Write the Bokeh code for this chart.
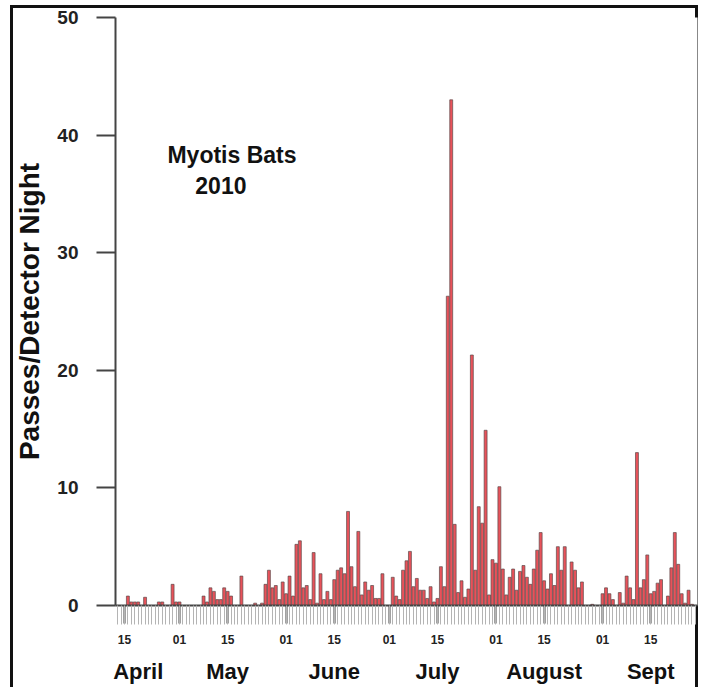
import pandas as pd
from bokeh.plotting import figure
from bokeh.models import Range1d, FixedTicker, LinearAxis, Label
from bokeh.embed import file_html
from bokeh.resources import INLINE

# ---- data -------------------------------------------------------------
season_start = "2010-04-01"          # day 0 of the x axis
first_day = "2010-04-15"
last_day = "2010-09-27"

# passes per detector night, one value per night from Apr 15 to Sep 27
passes = [
    # Apr 15 - Apr 30
    0, 0.8, 0.3, 0.3, 0.3, 0, 0.7, 0, 0, 0, 0.3, 0.3, 0, 0, 1.8, 0.3,
    # May 1 - May 31
    0.3, 0, 0, 0, 0, 0, 0, 0.8, 0.3, 1.5, 1.2, 0.5, 0.5, 1.5, 1.2, 0.8,
    0, 0, 2.5, 0, 0, 0, 0.2, 0, 0.2, 1.8, 3.0, 1.5, 1.7, 0.5, 2.0,
    # Jun 1 - Jun 30
    1.0, 2.5, 0.8, 5.2, 5.5, 1.5, 1.7, 0.5, 4.5, 0.2, 2.7, 0.5, 1.2, 0.5, 2.2,
    3.0, 3.2, 2.7, 8.0, 3.3, 1.6, 6.3, 0.9, 2.0, 1.3, 1.7, 0.6, 0.6, 2.7, 0,
    # Jul 1 - Jul 31
    0, 2.4, 0.8, 0.5, 3.0, 3.8, 4.6, 1.6, 2.3, 1.3, 1.3, 0.6, 1.6, 0.3, 0.6,
    3.3, 1.6, 26.3, 43.0, 6.9, 1.1, 2.1, 0.7, 1.4, 21.3, 3.0, 8.4, 7.0, 14.9, 0.9, 3.9,
    # Aug 1 - Aug 31
    3.6, 10.1, 3.1, 0.9, 2.4, 3.1, 1.3, 2.9, 3.4, 2.4, 1.8, 3.1, 4.7, 6.2, 2.1,
    1.4, 2.7, 1.7, 5.0, 3.0, 5.0, 0, 3.7, 3.0, 1.5, 2.0, 0, 0, 0.1, 0, 0,
    # Sep 1 - Sep 27
    1.0, 1.5, 1.0, 0.5, 0, 1.1, 0.2, 2.5, 1.5, 0.5, 13.0, 1.5, 2.2, 4.3, 1.0,
    1.2, 1.9, 2.2, 0, 0.8, 3.2, 6.2, 3.5, 1.0, 0.2, 1.3, 0.1,
]

y_ticks = [0, 10, 20, 30, 40, 50]
month_names = ["April", "May", "June", "July", "August", "Sept"]
month_label_dates = ["2010-04-19", "2010-05-15", "2010-06-15",
                     "2010-07-15", "2010-08-15", "2010-09-15"]
axis_dates = pd.date_range("2010-04-13", "2010-09-28")

# ---- derived positions (days since season_start) -----------------------
t0 = pd.Timestamp(season_start)
nights = pd.date_range(first_day, last_day)
assert len(nights) == len(passes)
x = [(d - t0).days for d in nights]

all_days = [(d - t0).days for d in axis_dates]
major = [(d - t0).days for d in axis_dates if d.day in (1, 15)]
major_labels = {(d - t0).days: d.strftime("%d") for d in axis_dates if d.day in (1, 15)}
month_pos = [(pd.Timestamp(m) - t0).days for m in month_label_dates]

FONT = "Liberation Sans"

p = figure(width=688, height=682, output_backend="svg", toolbar_location=None,
           x_range=Range1d(11.4, 180.6), y_range=Range1d(0, 50),
           min_border_left=105, min_border_top=12, min_border_right=1,
           min_border_bottom=82)
p.outline_line_color = None
p.border_fill_color = None
p.background_fill_color = "white"
p.grid.visible = False
p.styles = {"margin-left": "10px", "margin-top": "5px",
            "box-shadow": "inset 3px 0 0 0 #111, inset 0 3px 0 0 #111, inset -3px 0 0 0 #111"}

p.vbar(x=x, top=passes, width=0.85, bottom=0,
       fill_color="#e8525a", line_color="#5c4a4a", line_width=0.7)

# y axis
ya = p.yaxis[0]
ya.ticker = FixedTicker(ticks=y_ticks)
ya.axis_label = "Passes/Detector Night"
ya.axis_label_text_font = FONT
ya.axis_label_text_font_style = "bold"
ya.axis_label_text_font_size = "28px"
ya.axis_label_text_color = "#111"
ya.axis_label_standoff = 9
ya.major_label_text_font = FONT
ya.major_label_text_font_style = "bold"
ya.major_label_text_font_size = "19px"
ya.major_label_text_color = "#222"
ya.major_label_standoff = 18
ya.major_tick_out = 19
ya.major_tick_in = 0
ya.minor_tick_line_color = None
ya.axis_line_width = 2
ya.axis_line_color = "#444"
ya.major_tick_line_width = 2
ya.major_tick_line_color = "#444"

# day axis
xa = p.xaxis[0]
xa.ticker = FixedTicker(ticks=major, minor_ticks=all_days)
xa.major_label_overrides = major_labels
xa.major_label_text_font = FONT
xa.major_label_text_font_style = "bold"
xa.major_label_text_font_size = "12px"
xa.major_label_text_color = "#222"
xa.major_label_standoff = 10
xa.major_tick_out = 18
xa.major_tick_in = 0
xa.major_tick_line_width = 2
xa.major_tick_line_color = "#444"
xa.minor_tick_out = 19
xa.minor_tick_in = 0
xa.minor_tick_line_color = "#b4b4b4"
xa.axis_line_width = 2
xa.axis_line_color = "#444"

# month axis
ma = LinearAxis(ticker=FixedTicker(ticks=month_pos, minor_ticks=[]),
                major_label_overrides={m: n for m, n in zip(month_pos, month_names)})
ma.axis_line_color = None
ma.major_tick_line_color = None
ma.minor_tick_line_color = None
ma.major_tick_out = 0
ma.major_label_standoff = 12
ma.major_label_text_font = FONT
ma.major_label_text_font_style = "bold"
ma.major_label_text_font_size = "22px"
ma.major_label_text_color = "#111"
p.add_layout(ma, "below")

p.add_layout(Label(x=26.5, y=38.3, text="Myotis Bats", text_font=FONT,
                   text_font_style="bold", text_font_size="23px",
                   text_color="#111", text_baseline="middle"))
p.add_layout(Label(x=34.6, y=35.7, text="2010", text_font=FONT,
                   text_font_style="bold", text_font_size="23px",
                   text_color="#111", text_baseline="middle"))

open("out.html", "w").write(file_html(p, INLINE))
